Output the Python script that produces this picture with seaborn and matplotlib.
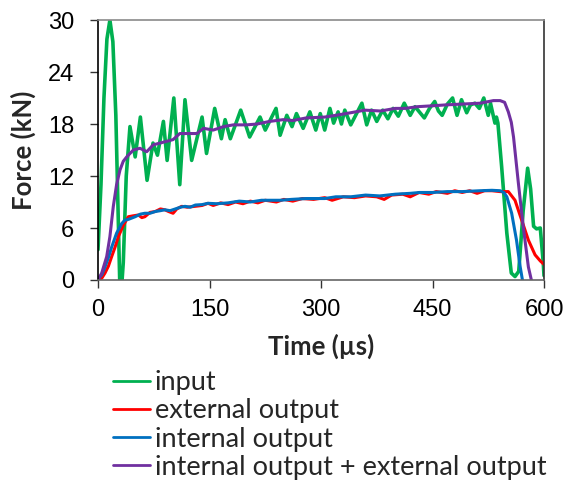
import matplotlib
matplotlib.use("Agg")
import matplotlib.pyplot as plt
import seaborn as sns
import pandas as pd
from matplotlib.lines import Line2D

# ---------------- data ----------------
t_input = [0, 4, 8, 12, 16, 20, 24, 27, 30, 34, 38, 43, 50, 57, 66, 74, 80, 88, 93,
           102, 110, 117, 126, 140, 146, 157, 166, 171, 178, 192, 204, 218, 225,
           239.5, 245, 254, 261, 267, 276, 285, 293, 299, 305, 312, 317, 323, 327.5,
           332, 340, 355, 361.5, 368, 375, 383, 390, 397, 404, 412, 420, 426.5, 439,
           446, 453, 458, 463, 470, 477, 483, 489, 496, 501, 507, 513, 519, 525, 528,
           534, 536, 538, 543, 550, 556, 561, 566, 572, 578, 582, 586, 590, 595, 599, 600]
f_input = [3.5, 11, 21, 27.8, 30, 27.5, 19, 8, -3, 2, 12, 17.7, 14.2, 18.8, 11.5, 15.8,
           14.4, 18.3, 13.8, 21.0, 11.0, 20.8, 13.8, 18.8, 14.6, 19.8, 16.3, 18.5, 16.3,
           19.6, 16.5, 18.8, 17.3, 19.8, 16.7, 19.0, 17.7, 19.2, 17.5, 19.4, 17.3, 19.2,
           17.3, 19.8, 18.1, 19.4, 18.0, 19.6, 17.9, 20.4, 17.9, 19.6, 18.3, 19.6, 18.6,
           19.8, 18.9, 20.4, 19.0, 20.0, 18.7, 19.8, 20.6, 19.5, 19.0, 20.3, 21.0, 19.0,
           20.8, 19.3, 20.2, 20.4, 19.8, 21.0, 19.0, 20.4, 18.1, 18.8, 18.1, 13.1, 5.4,
           0.8, 0.4, 1.0, 8.0, 12.9, 10.5, 6.2, 5.9, 6.0, 2.0, 0.5]

t_ext = [0, 5, 9.4, 14, 18.4, 23, 27.4, 34, 40.8, 47, 54.3, 59, 63, 70, 77, 84, 90, 95,
         101, 106, 112.6, 120, 130.5, 140, 148, 155, 165, 175, 185, 195, 205, 215, 225,
         240, 250, 262, 275, 290, 305, 315, 330, 345, 360, 375, 385, 395, 410, 420, 432,
         445, 455, 470, 480, 490, 500, 510, 520, 530, 541, 552, 561, 570, 579, 588, 595, 600]
f_ext = [0, 0.2, 0.8, 1.6, 2.7, 3.8, 5.0, 6.3, 7.3, 7.4, 7.5, 7.2, 7.3, 7.8, 7.9, 8.2,
         8.1, 7.9, 7.7, 8.2, 8.5, 8.4, 8.5, 8.6, 8.85, 8.6, 8.9, 8.7, 9.0, 8.8, 9.1, 8.9,
         9.2, 9.0, 9.3, 9.1, 9.4, 9.3, 9.5, 9.2, 9.6, 9.5, 9.7, 9.6, 9.3, 9.8, 9.9, 9.6,
         10.1, 9.9, 10.2, 10.0, 10.3, 10.1, 10.3, 10.0, 10.3, 10.3, 10.2, 10.2, 9.2, 6.9,
         4.6, 2.9, 2.2, 1.8]

t_int = [0, 5, 9.4, 14, 18.4, 25, 31.8, 36, 41, 50, 57, 63, 70, 77, 84, 90, 97, 104,
         111, 117, 124, 131, 140, 148, 160, 175, 190, 205, 220, 245, 260, 280, 305, 320,
         340, 360, 379, 400, 420, 433, 450, 470, 490, 514, 530, 541, 546, 550, 556.5,
         563, 568, 571, 578]
f_int = [0.1, 0.6, 1.5, 2.6, 3.8, 5.4, 6.5, 6.9, 7.0, 7.3, 7.6, 7.7, 7.7, 7.9, 8.0,
         8.1, 8.0, 8.2, 8.4, 8.5, 8.4, 8.65, 8.7, 8.85, 8.8, 8.9, 9.1, 9.0, 9.2, 9.2,
         9.3, 9.4, 9.4, 9.6, 9.6, 9.8, 9.7, 9.9, 10.0, 10.1, 10.1, 10.2, 10.2, 10.3,
         10.35, 10.3, 10.1, 9.6, 7.7, 4.6, 1.5, 0, -4]

t_sum = [0, 5, 11.7, 16, 20.6, 25, 29.6, 34, 38.6, 47.5, 56.5, 65.5, 74.4, 83.4, 92.4,
         101, 110, 124, 133, 142, 155, 169, 182, 200, 214, 231, 249, 262, 280, 305, 320,
         340, 359, 380, 400, 413, 430, 450, 467, 490, 514, 532, 541, 547, 552, 556, 559,
         565.5, 572, 579, 583, 590]
f_sum = [0, 0.8, 2.7, 5.0, 8.5, 11.0, 12.7, 13.7, 14.2, 15.0, 15.2, 14.8, 15.6, 15.8,
         16.0, 16.2, 16.9, 16.9, 16.9, 17.5, 17.3, 17.7, 17.9, 17.9, 18.0, 18.3, 18.5,
         18.4, 18.7, 18.8, 19.0, 19.3, 19.6, 19.5, 19.8, 19.8, 20.0, 20.1, 20.2, 20.3,
         20.4, 20.7, 20.7, 20.5, 19.4, 18.2, 16.5, 11.2, 6.2, 1.5, 0, -4]

labels = ["input", "external output", "internal output",
          "internal output + external output"]
colors = ["#00B050", "#FF0000", "#0070C0", "#7030A0"]
x_ticks = [0, 150, 300, 450, 600]
y_ticks = [0, 6, 12, 18, 24, 30]

# ---------------- plot ----------------
sns.set_style("ticks")
plt.rcParams["font.family"] = ["Liberation Sans", "DejaVu Sans"]

fig = plt.figure(figsize=(5.66, 4.98), dpi=100)
ax = fig.add_axes([98 / 566, 1 - 280 / 498, (544 - 98) / 566, (280 - 20) / 498])

series = [(t_input, f_input), (t_ext, f_ext), (t_int, f_int), (t_sum, f_sum)]
widths = [2.6, 2.2, 2.2, 2.2]
for (tt, ff), lab, col, lw in zip(series, labels, colors, widths):
    df = pd.DataFrame({"t": tt, "F": ff})
    sns.lineplot(data=df, x="t", y="F", ax=ax, color=col, linewidth=lw,
                 sort=False, estimator=None, legend=False)

ax.set_xlim(0, 600)
ax.set_ylim(0, 30)
ax.set_xticks(x_ticks)
ax.set_yticks(y_ticks)
ax.tick_params(axis="both", direction="out", length=6, width=1, colors="#333333",
               labelsize=17, labelcolor="black")
ax.tick_params(axis="x", pad=8)
ax.tick_params(axis="y", pad=11)

for side in ["top", "right", "bottom", "left"]:
    ax.spines[side].set_visible(True)
    ax.spines[side].set_linewidth(1.2)
ax.spines["left"].set_color("#000000")
ax.spines["bottom"].set_color("#666666")
ax.spines["top"].set_color("#8a8a8a")
ax.spines["right"].set_color("#333333")

ax.set_xlabel("Time (µs)", fontsize=18.5, fontweight="bold",
              family=["Lato", "DejaVu Sans"], labelpad=9)
ax.set_ylabel("Force (kN)", fontsize=18.5, fontweight="bold",
              family=["Lato", "DejaVu Sans"], labelpad=9)

handles = [Line2D([0], [0], color=c, linewidth=2.0) for c in colors]
fig.legend(handles, labels, loc="upper left", bbox_to_anchor=(113 / 566, 1 - 370 / 498),
           frameon=False, borderpad=0, borderaxespad=0, handlelength=1.35,
           handletextpad=0.2, labelspacing=0.12,
           prop={"family": ["Lato", "DejaVu Sans"], "size": 19.5})

fig.savefig("out.png", dpi=100)
